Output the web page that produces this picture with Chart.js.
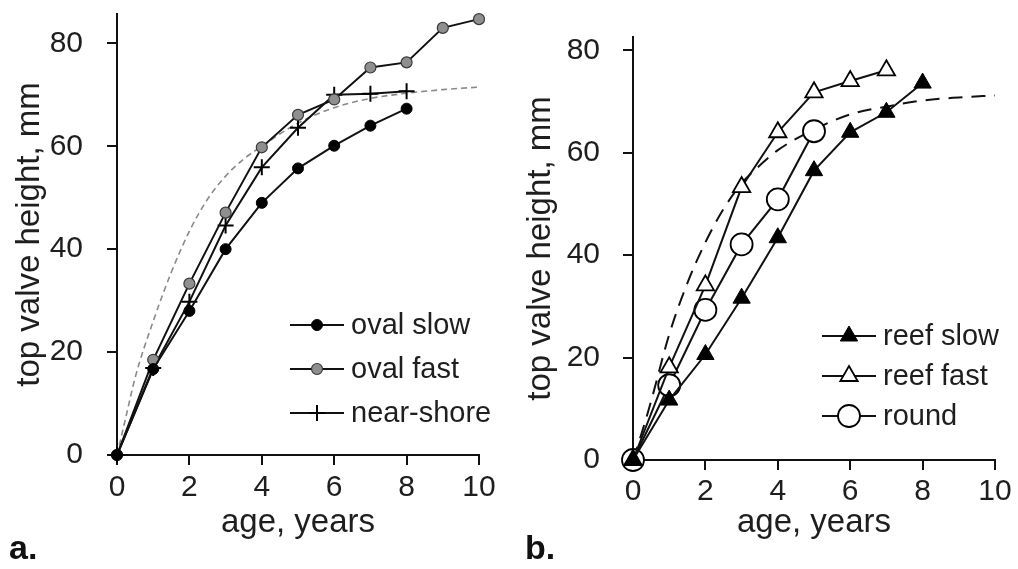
<!DOCTYPE html>
<html>
<head>
<meta charset="utf-8">
<script src="https://cdn.jsdelivr.net/npm/chart.js@4.4.0/dist/chart.umd.min.js"></script>
<style>
  body { margin: 0; background: #fff; width: 1018px; height: 569px; position: relative; overflow: hidden; font-family: "Liberation Sans", Arial, sans-serif; }
  canvas { position: absolute; top: 0; }
  #chartA { left: 0; }
  #chartB { left: 509px; }
  .panel-tag { position: absolute; font-weight: bold; font-size: 34px; line-height: 1; color: #111; }
</style>
</head>
<body>
<canvas id="chartA" width="509" height="569"></canvas>
<canvas id="chartB" width="509" height="569"></canvas>
<div class="panel-tag" style="left:9px; top:530px;">a.</div>
<div class="panel-tag" style="left:525px; top:530px;">b.</div>
<script>
// panel a
let agesA = [0, 1, 2, 3, 4, 5, 6, 7, 8, 9, 10];
let ovalSlow = [0, 16.7, 28.0, 40.0, 49.0, 55.7, 60.1, 64.0, 67.3];
let ovalFast = [0, 18.5, 33.3, 47.1, 59.8, 66.1, 69.1, 75.3, 76.3, 83.0, 84.7];
let nearShore = [0, 16.9, 29.8, 44.6, 55.9, 63.6, 70.0, 70.2, 70.7];
let fitAgesA = [0, 0.25, 0.5, 1, 1.5, 2, 2.5, 3, 3.5, 4, 5, 6, 7, 8, 9, 10];
let fitA = [0, 7.5, 15, 26, 35.5, 43.5, 49.7, 54.2, 57.5, 60, 64.5, 67.5, 69.3, 70.3, 71, 71.5];

// panel b
let agesB = [0, 1, 2, 3, 4, 5, 6, 7, 8];
let reefSlow = [0, 11.7, 20.6, 31.6, 43.4, 56.5, 64.0, 67.9, 73.6];
let reefFast = [0, 18.1, 34.1, 53.3, 64.0, 71.8, 74.0, 76.1];
let roundShell = [0, 14.6, 29.3, 42.1, 50.9, 64.2];
let fitAgesB = [0, 0.25, 0.5, 1, 1.5, 2, 2.5, 3, 3.5, 4, 5, 6, 7, 8, 9, 10];
let fitB = [0, 5.5, 11.5, 24.5, 34.5, 42.5, 49, 54, 57.5, 60.5, 64.5, 67.5, 69, 70.2, 70.8, 71.2];

let xTicks = [0, 2, 4, 6, 8, 10];
let yTicks = [0, 20, 40, 60, 80];

let textColor = "#1e1e1e";
let fontFamily = "'Liberation Sans', Arial, sans-serif";

function pts(xs, ys) {
  return ys.map((y, i) => ({ x: xs[i], y: y }));
}

// legend with a short line and the marker on it
let lineLegend = {
  id: "lineLegend",
  afterDatasetsDraw(chart, args, opts) {
    let ctx = chart.ctx;
    ctx.save();
    let row = 0;
    chart.data.datasets.forEach((ds) => {
      if (!ds.label) return;
      let y = opts.top + row * opts.step;
      ctx.strokeStyle = ds.borderColor;
      ctx.lineWidth = ds.borderWidth;
      ctx.beginPath();
      ctx.moveTo(opts.left, y);
      ctx.lineTo(opts.left + opts.len, y);
      ctx.stroke();
      ctx.fillStyle = ds.pointBackgroundColor;
      ctx.strokeStyle = ds.pointBorderColor;
      ctx.lineWidth = ds.pointBorderWidth;
      Chart.helpers.drawPoint(ctx, {
        pointStyle: ds.pointStyle,
        radius: ds.pointRadius,
        borderWidth: ds.pointBorderWidth,
        rotation: 0
      }, opts.left + opts.len / 2, y);
      ctx.fillStyle = textColor;
      ctx.font = "29px " + fontFamily;
      ctx.textAlign = "left";
      ctx.textBaseline = "middle";
      ctx.fillText(ds.label, opts.left + opts.len + 7, y + 1);
      row++;
    });
    ctx.restore();
  }
};

function axes(yMax, yWidth, xHeight, xLabelPad, yLabelPad, xTitlePad, yTitlePad) {
  let grid = { drawOnChartArea: false, drawTicks: true, tickLength: 10, color: "#111", lineWidth: 2 };
  let border = { display: true, color: "#111", width: 2 };
  return {
    x: {
      type: "linear",
      min: 0,
      max: 10,
      afterBuildTicks: (s) => { s.ticks = xTicks.map((v) => ({ value: v })); },
      afterFit: (s) => { s.height = xHeight; s.paddingLeft = 0; s.paddingRight = 0; },
      ticks: { font: { size: 30, family: fontFamily }, color: textColor, padding: xLabelPad, maxRotation: 0 },
      grid: grid,
      border: border,
      title: { display: true, text: "age, years", font: { size: 33, family: fontFamily }, color: textColor, padding: { top: 0, bottom: xTitlePad } }
    },
    y: {
      type: "linear",
      min: 0,
      max: yMax,
      afterBuildTicks: (s) => { s.ticks = yTicks.map((v) => ({ value: v })); },
      afterFit: (s) => { s.width = yWidth; s.paddingTop = 0; s.paddingBottom = 0; },
      ticks: { font: { size: 30, family: fontFamily }, color: textColor, padding: yLabelPad },
      grid: grid,
      border: border,
      title: { display: true, text: "top valve height, mm", font: { size: 33, family: fontFamily }, color: textColor, padding: { top: yTitlePad, bottom: 0 } }
    }
  };
}

let common = {
  responsive: false,
  animation: false,
  events: [],
  plugins: { legend: { display: false }, tooltip: { enabled: false } }
};

new Chart(document.getElementById("chartA"), {
  type: "scatter",
  data: {
    datasets: [
      { label: "oval slow", data: pts(agesA, ovalSlow), showLine: true, clip: false,
        borderColor: "#111", borderWidth: 2, pointStyle: "circle", pointRadius: 5.5,
        pointBackgroundColor: "#000", pointBorderColor: "#000", pointBorderWidth: 1 },
      { label: "oval fast", data: pts(agesA, ovalFast), showLine: true, clip: false,
        borderColor: "#111", borderWidth: 2, pointStyle: "circle", pointRadius: 5.5,
        pointBackgroundColor: "#8f8f8f", pointBorderColor: "#3a3a3a", pointBorderWidth: 1.2 },
      { label: "near-shore", data: pts(agesA, nearShore), showLine: true, clip: false,
        borderColor: "#111", borderWidth: 2, pointStyle: "cross", pointRadius: 8,
        pointBackgroundColor: "#000", pointBorderColor: "#000", pointBorderWidth: 2 },
      { label: "", data: pts(fitAgesA, fitA), showLine: true, clip: false,
        borderColor: "#8a8a8a", borderWidth: 1.6, borderDash: [6, 4], pointRadius: 0,
        tension: 0.4, cubicInterpolationMode: "monotone" }
    ]
  },
  options: Object.assign({}, common, {
    layout: { padding: { top: 14, right: 30, bottom: 0, left: 0 } },
    scales: axes(85.7, 117, 114, 5, 24, 26, 10),
    plugins: Object.assign({}, common.plugins, {
      lineLegend: { left: 290, len: 54, top: 325, step: 44 }
    })
  }),
  plugins: [lineLegend]
});

new Chart(document.getElementById("chartB"), {
  type: "scatter",
  data: {
    datasets: [
      { label: "reef slow", data: pts(agesB, reefSlow), showLine: true, clip: false,
        borderColor: "#111", borderWidth: 2, pointStyle: "triangle", pointRadius: 10,
        pointBackgroundColor: "#000", pointBorderColor: "#000", pointBorderWidth: 1 },
      { label: "reef fast", data: pts(agesB, reefFast), showLine: true, clip: false,
        borderColor: "#111", borderWidth: 2, pointStyle: "triangle", pointRadius: 10,
        pointBackgroundColor: "#fff", pointBorderColor: "#000", pointBorderWidth: 1.8 },
      { label: "round", data: pts(agesB, roundShell), showLine: true, clip: false,
        borderColor: "#111", borderWidth: 2, pointStyle: "circle", pointRadius: 11,
        pointBackgroundColor: "#fff", pointBorderColor: "#000", pointBorderWidth: 1.8 },
      { label: "", data: pts(fitAgesB, fitB), showLine: true, clip: false,
        borderColor: "#111", borderWidth: 2, borderDash: [14, 9], pointRadius: 0,
        tension: 0.4, cubicInterpolationMode: "monotone" }
    ]
  },
  options: Object.assign({}, common, {
    layout: { padding: { top: 37, right: 23, bottom: 0, left: 0 } },
    scales: axes(82.6, 124, 109, 4, 23, 26, 12),
    plugins: Object.assign({}, common.plugins, {
      lineLegend: { left: 313, len: 54, top: 336, step: 40 }
    })
  }),
  plugins: [lineLegend]
});
</script>
</body>
</html>
